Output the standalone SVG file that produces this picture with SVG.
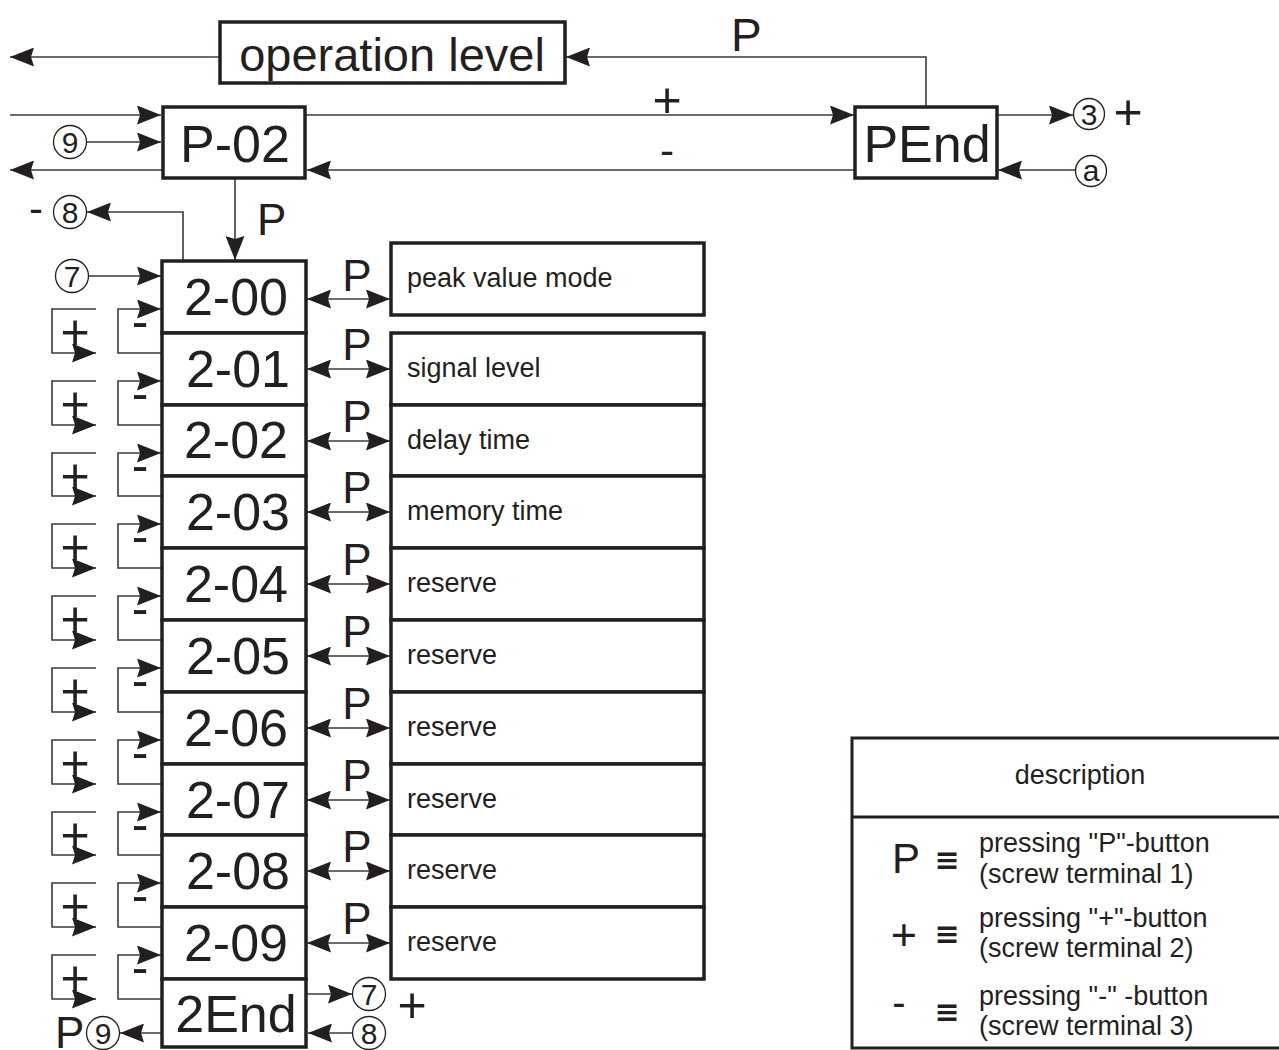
<svg xmlns="http://www.w3.org/2000/svg" width="1279" height="1050" viewBox="0 0 1279 1050">
<style>
.box{fill:#fff;stroke:#231f20;stroke-width:3.5}
.ln{fill:none;stroke:#3a3a3a;stroke-width:1.6}
.ar{marker-end:url(#ah)}
.da{marker-start:url(#ah);marker-end:url(#ah)}
.circ{fill:#fff;stroke:#231f20;stroke-width:1.3}
text{font-family:"Liberation Sans",Arial,sans-serif;fill:#231f20}
.big{font-size:52px;text-anchor:middle}
.lbl{font-size:44px}
.sm{font-size:27px}
.num{font-size:30px;text-anchor:middle}
.pm{font-size:50px;text-anchor:middle}
.eq{font-family:"DejaVu Sans",sans-serif;font-size:30px;font-weight:bold;text-anchor:middle}
</style>
<defs>
<marker id="ah" viewBox="0 0 24 19" markerWidth="24" markerHeight="19" refX="24" refY="9.5" orient="auto-start-reverse" markerUnits="userSpaceOnUse"><path d="M0,0 L24,9.5 L0,19 L3,9.5 Z" fill="#231f20"/></marker>
</defs>
<rect width="1279" height="1050" fill="#fff"/>

<g id="connectors">
<path class="ln ar" d="M220,57 H10"/>
<path class="ln ar" d="M926,107 V57 H566"/>
<path class="ln ar" d="M10,115 H161"/>
<path class="ln ar" d="M306,115 H854"/>
<path class="ln ar" d="M855,170 H307"/>
<path class="ln ar" d="M162,170 H10"/>
<path class="ln ar" d="M87,142 H161"/>
<path class="ln ar" d="M997,115 H1073"/>
<path class="ln ar" d="M1076,170 H998"/>
<path class="ln ar" d="M235,178 V260"/>
<path class="ln ar" d="M183,261 V212 H87"/>
<path class="ln ar" d="M89,276 H161"/>
<path class="ln ar" d="M307,994 H352"/>
<path class="ln ar" d="M353,1033 H308"/>
<path class="ln ar" d="M162,1033 H120"/>
<!-- P double arrows -->
<path class="ln da" d="M307,299 H390"/>
<path class="ln da" d="M307,369 H390"/>
<path class="ln da" d="M307,441 H390"/>
<path class="ln da" d="M307,512 H390"/>
<path class="ln da" d="M307,584 H390"/>
<path class="ln da" d="M307,656 H390"/>
<path class="ln da" d="M307,728 H390"/>
<path class="ln da" d="M307,800 H390"/>
<path class="ln da" d="M307,871 H390"/>
<path class="ln da" d="M307,943 H390"/>
<!-- + loops -->
<path class="ln ar" d="M96,309 H52 V353 H96"/>
<path class="ln ar" d="M96,381 H52 V425 H96"/>
<path class="ln ar" d="M96,453 H52 V496 H96"/>
<path class="ln ar" d="M96,524 H52 V568 H96"/>
<path class="ln ar" d="M96,596 H52 V640 H96"/>
<path class="ln ar" d="M96,668 H52 V712 H96"/>
<path class="ln ar" d="M96,740 H52 V784 H96"/>
<path class="ln ar" d="M96,812 H52 V855 H96"/>
<path class="ln ar" d="M96,883 H52 V927 H96"/>
<path class="ln ar" d="M96,955 H52 V999 H96"/>
<!-- - loops -->
<path class="ln ar" d="M162,353 H118 V309 H161"/>
<path class="ln ar" d="M162,425 H118 V381 H161"/>
<path class="ln ar" d="M162,496 H118 V453 H161"/>
<path class="ln ar" d="M162,568 H118 V524 H161"/>
<path class="ln ar" d="M162,640 H118 V596 H161"/>
<path class="ln ar" d="M162,712 H118 V668 H161"/>
<path class="ln ar" d="M162,784 H118 V740 H161"/>
<path class="ln ar" d="M162,855 H118 V812 H161"/>
<path class="ln ar" d="M162,927 H118 V883 H161"/>
<path class="ln ar" d="M162,999 H118 V955 H161"/>
</g>

<g id="labels">
<text class="lbl" x="731" y="51" style="font-size:46px">P</text>
<text class="pm" x="667" y="117">+</text>
<text class="pm" x="667" y="165" style="font-size:42px">-</text>
<text class="pm" x="1128" y="129">+</text>
<text class="lbl" x="257" y="235">P</text>
<text class="pm" x="36" y="223" style="font-size:42px">-</text>
<text class="pm" x="412" y="1022">+</text>
<text class="lbl" x="55" y="1048">P</text>
<g id="plabels" class="lbl" style="text-anchor:middle">
<text x="357" y="291">P</text>
<text x="357" y="360">P</text>
<text x="357" y="432">P</text>
<text x="357" y="503">P</text>
<text x="357" y="575">P</text>
<text x="357" y="647">P</text>
<text x="357" y="719">P</text>
<text x="357" y="791">P</text>
<text x="357" y="862">P</text>
<text x="357" y="934">P</text>
</g>
<g id="pluslabels" class="pm">
<text x="75" y="349">+</text>
<text x="75" y="421">+</text>
<text x="75" y="493">+</text>
<text x="75" y="564">+</text>
<text x="75" y="636">+</text>
<text x="75" y="708">+</text>
<text x="75" y="780">+</text>
<text x="75" y="852">+</text>
<text x="75" y="923">+</text>
<text x="75" y="995">+</text>
</g>
<g id="minuslabels" class="pm">
<text x="140" y="338">-</text>
<text x="140" y="410">-</text>
<text x="140" y="482">-</text>
<text x="140" y="553">-</text>
<text x="140" y="625">-</text>
<text x="140" y="697">-</text>
<text x="140" y="769">-</text>
<text x="140" y="841">-</text>
<text x="140" y="912">-</text>
<text x="140" y="984">-</text>
</g>
</g>

<g id="terminals">
<circle class="circ" cx="70" cy="142" r="16.5"/><text class="num" x="70" y="153">9</text>
<circle class="circ" cx="70" cy="212" r="16.5"/><text class="num" x="70" y="223">8</text>
<circle class="circ" cx="72" cy="276" r="16.5"/><text class="num" x="72" y="287">7</text>
<circle class="circ" cx="1089" cy="114" r="15.5"/><text class="num" x="1089" y="125">3</text>
<circle class="circ" cx="1091" cy="171" r="15.5"/><text class="num" x="1091" y="181">a</text>
<circle class="circ" cx="369" cy="994" r="16.5"/><text class="num" x="369" y="1005">7</text>
<circle class="circ" cx="369" cy="1033" r="16.5"/><text class="num" x="369" y="1044">8</text>
<circle class="circ" cx="103" cy="1033" r="16.5"/><text class="num" x="103" y="1044">9</text>
</g>

<g id="n-operation-level"><rect class="box" x="220" y="22" width="345" height="61"/><text x="392" y="71" style="font-size:47px;text-anchor:middle">operation level</text></g>
<g id="n-P-02"><rect class="box" x="163" y="107" width="142" height="71"/><text class="big" x="235" y="162">P-02</text></g>
<g id="n-PEnd"><rect class="box" x="855" y="107" width="142" height="71"/><text class="big" x="927" y="162">PEnd</text></g>

<g id="n-2-00"><rect class="box" x="162" y="261" width="144" height="72"/><text class="big" x="236" y="315">2-00</text></g>
<g id="n-2-01"><rect class="box" x="162" y="333" width="144" height="72"/><text class="big" x="238" y="387">2-01</text></g>
<g id="n-2-02"><rect class="box" x="162" y="405" width="144" height="71"/><text class="big" x="236" y="458">2-02</text></g>
<g id="n-2-03"><rect class="box" x="162" y="476" width="144" height="72"/><text class="big" x="238" y="530">2-03</text></g>
<g id="n-2-04"><rect class="box" x="162" y="548" width="144" height="72"/><text class="big" x="236" y="602">2-04</text></g>
<g id="n-2-05"><rect class="box" x="162" y="620" width="144" height="72"/><text class="big" x="238" y="674">2-05</text></g>
<g id="n-2-06"><rect class="box" x="162" y="692" width="144" height="72"/><text class="big" x="236" y="746">2-06</text></g>
<g id="n-2-07"><rect class="box" x="162" y="764" width="144" height="71"/><text class="big" x="238" y="818">2-07</text></g>
<g id="n-2-08"><rect class="box" x="162" y="835" width="144" height="72"/><text class="big" x="238" y="889">2-08</text></g>
<g id="n-2-09"><rect class="box" x="162" y="907" width="144" height="72"/><text class="big" x="236" y="961">2-09</text></g>
<g id="n-2End"><rect class="box" x="162" y="979" width="144" height="68"/><text class="big" x="236" y="1032">2End</text></g>

<g id="n-d-00"><rect class="box" x="391" y="243" width="313" height="72"/><text class="sm" x="407" y="287">peak value mode</text></g>
<g id="n-d-01"><rect class="box" x="391" y="333" width="313" height="72"/><text class="sm" x="407" y="377">signal level</text></g>
<g id="n-d-02"><rect class="box" x="391" y="405" width="313" height="71"/><text class="sm" x="407" y="449">delay time</text></g>
<g id="n-d-03"><rect class="box" x="391" y="476" width="313" height="72"/><text class="sm" x="407" y="520">memory time</text></g>
<g id="n-d-04"><rect class="box" x="391" y="548" width="313" height="72"/><text class="sm" x="407" y="592">reserve</text></g>
<g id="n-d-05"><rect class="box" x="391" y="620" width="313" height="72"/><text class="sm" x="407" y="664">reserve</text></g>
<g id="n-d-06"><rect class="box" x="391" y="692" width="313" height="72"/><text class="sm" x="407" y="736">reserve</text></g>
<g id="n-d-07"><rect class="box" x="391" y="764" width="313" height="71"/><text class="sm" x="407" y="808">reserve</text></g>
<g id="n-d-08"><rect class="box" x="391" y="835" width="313" height="72"/><text class="sm" x="407" y="879">reserve</text></g>
<g id="n-d-09"><rect class="box" x="391" y="907" width="313" height="72"/><text class="sm" x="407" y="951">reserve</text></g>

<g id="legend">
<rect class="box" x="852" y="738" width="440" height="310" style="stroke-width:3"/>
<line x1="852" y1="817" x2="1290" y2="817" stroke="#231f20" stroke-width="3"/>
<text class="sm" x="1080" y="784" style="text-anchor:middle">description</text>
<text x="892" y="873" style="font-size:42px">P</text>
<text class="eq" x="947" y="870">≡</text>
<text class="sm" x="979" y="852">pressing "P"-button</text>
<text class="sm" x="979" y="883">(screw terminal 1)</text>
<text class="pm" x="904" y="950" style="font-size:45px">+</text>
<text class="eq" x="947" y="944">≡</text>
<text class="sm" x="979" y="927">pressing "+"-button</text>
<text class="sm" x="979" y="957">(screw terminal 2)</text>
<text class="pm" x="899" y="1016" style="font-size:40px">-</text>
<text class="eq" x="947" y="1022">≡</text>
<text class="sm" x="979" y="1005">pressing "-" -button</text>
<text class="sm" x="979" y="1035">(screw terminal 3)</text>
</g>
</svg>
